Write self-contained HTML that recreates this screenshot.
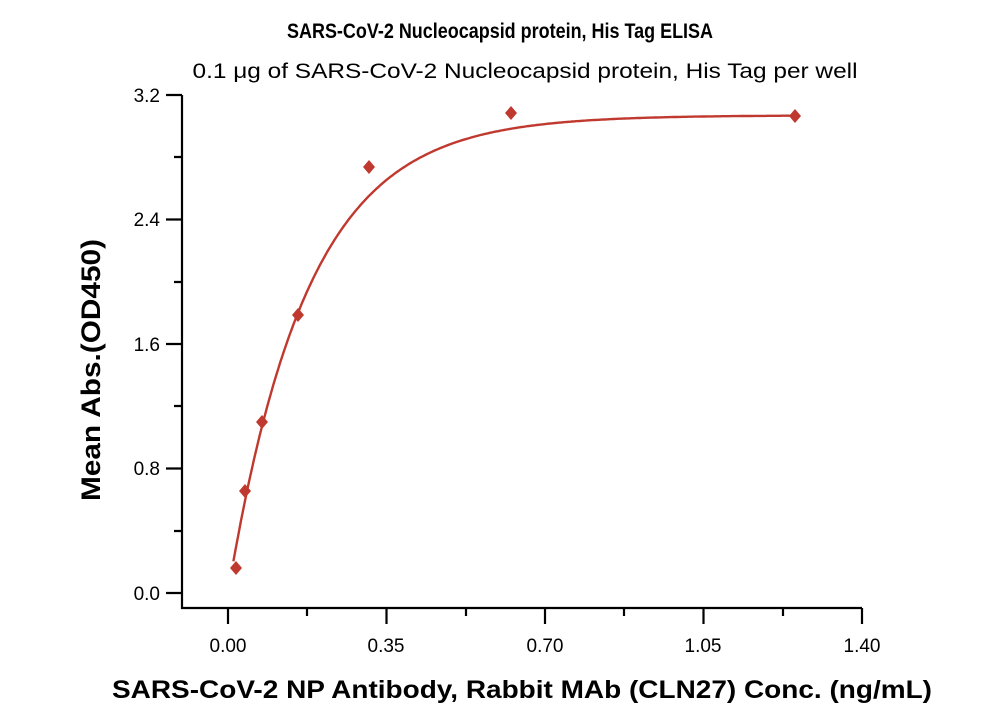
<!DOCTYPE html>
<html><head><style>body{margin:0;background:#fff}svg{display:block}text{font-family:"Liberation Sans",sans-serif;fill:#000}</style></head>
<body>
<svg id="s" width="1000" height="714" viewBox="0 0 1000 714">
<text x="500" y="38" text-anchor="middle" font-size="21" font-weight="bold" textLength="426" lengthAdjust="spacingAndGlyphs">SARS-CoV-2 Nucleocapsid protein, His Tag ELISA</text>
<text x="525" y="78" text-anchor="middle" font-size="21" textLength="665" lengthAdjust="spacingAndGlyphs">0.1 μg of SARS-CoV-2 Nucleocapsid protein, His Tag per well</text>
<g stroke="#000" stroke-width="2.2" fill="none">
<path d="M182 95V608H862"/>
<path d="M166 95H182M166 219.5H182M166 344H182M166 468.5H182M166 593H182"/>
<path d="M174 157H182M174 282H182M174 406H182M174 531H182"/>
<path d="M228 608V624M386.5 608V624M545 608V624M703.5 608V624M862 608V624"/>
<path d="M307 608V616M466 608V616M624 608V616M783 608V616"/>
</g>
<g font-size="19" text-anchor="end">
<text x="160" y="102">3.2</text><text x="160" y="226">2.4</text><text x="160" y="351">1.6</text><text x="160" y="475">0.8</text><text x="160" y="600">0.0</text>
</g>
<g font-size="19" text-anchor="middle">
<text x="228" y="652">0.00</text><text x="386" y="652">0.35</text><text x="545" y="652">0.70</text><text x="703" y="652">1.05</text><text x="862" y="652">1.40</text>
</g>
<text x="522" y="698" text-anchor="middle" font-size="25" font-weight="bold" textLength="820" lengthAdjust="spacingAndGlyphs">SARS-CoV-2 NP Antibody, Rabbit MAb (CLN27) Conc. (ng/mL)</text>
<text transform="translate(100,370) rotate(-90)" text-anchor="middle" font-size="27" font-weight="bold" textLength="262" lengthAdjust="spacingAndGlyphs">Mean Abs.(OD450)</text>
<path id="c" fill="none" stroke="#c0392f" stroke-width="2.4"/>
<g id="p" fill="#c0392f"></g>
</svg>
<script>
var X=function(v){return 228+v*452.9},Y=function(v){return 593-v*155.6};
var d="";for(var i=0;i<=300;i++){var x=0.012+i*(1.252-0.012)/300;var y=3.07*(1-Math.exp(-Math.pow(x/0.175,1.0)));d+=(i?"L":"M")+X(x).toFixed(1)+" "+Y(y).toFixed(1);}
document.getElementById("c").setAttribute("d",d);
var pts=[[236,568],[245,491],[262,422],[298,315],[369,167],[511,113],[795,116]],g="";
pts.forEach(function(p){g+='<path d="M'+p[0]+' '+(p[1]-7)+'L'+(p[0]+6)+' '+p[1]+'L'+p[0]+' '+(p[1]+7)+'L'+(p[0]-6)+' '+p[1]+'Z"/>';});
document.getElementById("p").innerHTML=g;
</script>
</body></html>
